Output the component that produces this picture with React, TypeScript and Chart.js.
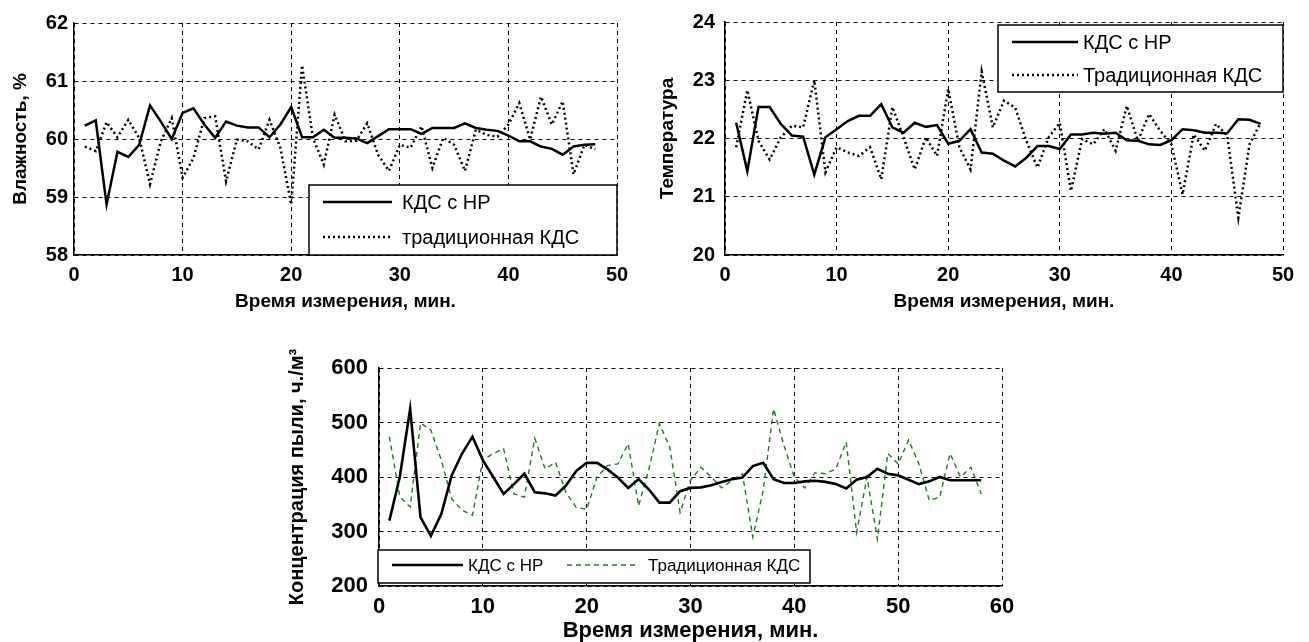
import React, { useEffect, useRef } from "react";
import { Chart, registerables } from "chart.js";

Chart.register(...registerables);

// ---------- data ----------
const minutesTop = [
  1, 2, 3, 4, 5, 6, 7, 8, 9, 10, 11, 12, 13, 14, 15, 16, 17, 18, 19, 20, 21, 22, 23, 24,
  25, 26, 27, 28, 29, 30, 31, 32, 33, 34, 35, 36, 37, 38, 39, 40, 41, 42, 43, 44, 45, 46, 47, 48,
];
const minutesDust = [
  1, 2, 3, 4, 5, 6, 7, 8, 9, 10, 11, 12, 13, 14, 15, 16, 17, 18, 19, 20, 21, 22, 23, 24,
  25, 26, 27, 28, 29, 30, 31, 32, 33, 34, 35, 36, 37, 38, 39, 40, 41, 42, 43, 44, 45, 46, 47, 48,
  49, 50, 51, 52, 53, 54, 55, 56, 57, 58,
];

const humidityNR = [
  60.23, 60.32, 58.87, 59.78, 59.69, 59.9, 60.58, 60.3, 60.0, 60.45, 60.53, 60.25, 60.02, 60.3,
  60.23, 60.2, 60.2, 60.03, 60.25, 60.55, 60.03, 60.03, 60.16, 60.02, 60.02, 60.01, 59.93, 60.05,
  60.17, 60.17, 60.17, 60.09, 60.19, 60.19, 60.19, 60.27, 60.19, 60.16, 60.14, 60.06, 59.96, 59.96,
  59.87, 59.83, 59.73, 59.87, 59.9, 59.91,
];
const humidityTrad = [
  59.87, 59.79, 60.29, 60.03, 60.33, 60.02, 59.22, 59.96, 60.36, 59.33, 59.67, 60.36, 60.39, 59.27,
  59.99, 59.96, 59.82, 60.33, 59.85, 58.87, 61.27, 60.02, 59.56, 60.42, 59.96, 59.97, 60.27, 59.73,
  59.45, 59.9, 59.85, 60.22, 59.5, 60.02, 59.9, 59.45, 60.16, 60.07, 60.04, 60.25, 60.62, 59.99,
  60.73, 60.25, 60.65, 59.39, 59.9, 59.82,
];

const tempNR = [
  22.27, 21.44, 22.54, 22.54, 22.25, 22.05, 22.03, 21.38, 22.02, 22.16, 22.3, 22.39, 22.39, 22.59,
  22.19, 22.1, 22.27, 22.2, 22.23, 21.91, 21.96, 22.16, 21.76, 21.74, 21.62, 21.52, 21.67, 21.87,
  21.87, 21.82, 22.07, 22.07, 22.1, 22.08, 22.1, 21.97, 21.96, 21.9, 21.89, 21.97, 22.16, 22.14,
  22.1, 22.1, 22.09, 22.33, 22.32, 22.25,
];
const tempTrad = [
  21.85, 22.83, 21.96, 21.64, 22.02, 22.22, 22.19, 23.0, 21.42, 21.85, 21.76, 21.7, 21.85, 21.3,
  22.54, 22.02, 21.47, 22.02, 21.7, 22.85, 21.85, 21.47, 23.15, 22.19, 22.65, 22.53, 21.96, 21.5,
  22.02, 22.27, 21.1, 21.99, 21.9, 22.16, 21.79, 22.56, 21.96, 22.42, 22.13, 21.9, 21.04, 22.07,
  21.79, 22.25, 22.05, 20.64, 21.9, 22.27,
];

const dustNR = [
  320, 400, 525, 326, 292, 332, 403, 443, 474, 431, 400, 369, 387, 406, 372, 370, 366, 384, 411, 426,
  426, 414, 399, 380, 396, 377, 353, 353, 374, 380, 381, 385, 391, 396, 399, 420, 426, 396, 389, 389,
  392, 393, 391, 387, 379, 395, 400, 415, 406, 403, 395, 387, 392, 400, 394, 394, 394, 394,
];
const dustTrad = [
  474, 364, 345, 499, 486, 431, 360, 339, 330, 431, 443, 452, 369, 363, 471, 415, 427, 372, 344, 341,
  400, 421, 424, 461, 347, 415, 498, 455, 335, 394, 418, 400, 380, 394, 406, 290, 375, 525, 458, 400,
  380, 408, 406, 415, 464, 298, 400, 286, 443, 424, 468, 424, 357, 363, 443, 400, 418, 369,
];

const labelNR = "КДС с НР";
const labelTradLower = "традиционная КДС";
const labelTradUpper = "Традиционная КДС";
const xTitle = "Время измерения, мин.";
const yTitleHumidity = "Влажность, %";
const yTitleTemp = "Температура";
const yTitleDust = "Концентрация пыли, ч./м³";

// ---------- helpers ----------
const FAMILY = '"Liberation Sans", Arial, sans-serif';

const toPoints = (xs: number[], ys: number[]) => xs.map((x, i) => ({ x, y: ys[i] }));

const boxLegend = {
  id: "boxLegend",
  afterDatasetsDraw(chart: any, _args: any, opts: any) {
    if (!opts || !opts.box) return;
    const ctx = chart.ctx as CanvasRenderingContext2D;
    const b = opts.box;
    ctx.save();
    ctx.setLineDash([]);
    ctx.fillStyle = "#fff";
    ctx.fillRect(b.x, b.y, b.w, b.h);
    ctx.strokeStyle = "#000";
    ctx.lineWidth = 1.5;
    ctx.strokeRect(b.x, b.y, b.w, b.h);
    const items = opts.items || [];
    for (let i = 0; i < items.length; i++) {
      const it = items[i];
      const ds = chart.data.datasets[i];
      ctx.beginPath();
      ctx.strokeStyle = ds.borderColor;
      ctx.lineWidth = ds.borderWidth;
      ctx.setLineDash(ds.borderDash || []);
      ctx.moveTo(it.x1, it.y);
      ctx.lineTo(it.x2, it.y);
      ctx.stroke();
      ctx.setLineDash([]);
      ctx.fillStyle = "#000";
      ctx.font = opts.font;
      ctx.textBaseline = "middle";
      ctx.textAlign = "left";
      ctx.fillText(ds.label, it.tx, it.y + 1);
    }
    ctx.restore();
  },
};

interface PanelCfg {
  xMax: number;
  yMin: number;
  yMax: number;
  yStep: number;
  yTitle: string;
  yTitleFont: any;
  yTitlePad: number;
  yWidth: number;
  yTickPad: number;
  xHeight: number;
  xTickPad: number;
  xTitleFont: any;
  xTitlePad: number;
  tickFont: any;
  padding: any;
  legend: any;
}

function buildOptions(c: PanelCfg) {
  return {
    responsive: false,
    animation: false as const,
    events: [],
    layout: { padding: c.padding },
    elements: { point: { radius: 0 }, line: { tension: 0 } },
    plugins: {
      legend: { display: false },
      tooltip: { enabled: false },
      boxLegend: c.legend,
    },
    scales: {
      x: {
        type: "linear" as const,
        min: 0,
        max: c.xMax,
        ticks: {
          stepSize: 10,
          color: "#000",
          font: c.tickFont,
          padding: c.xTickPad,
          maxRotation: 0,
          autoSkip: false,
        },
        grid: { color: "#000", lineWidth: 1, drawTicks: false },
        border: { display: true, color: "#000", width: 1.5, dash: [4, 4] },
        title: {
          display: true,
          text: xTitle,
          color: "#000",
          font: c.xTitleFont,
          padding: { top: 0, bottom: c.xTitlePad },
        },
        afterFit: (s: any) => {
          s.height = c.xHeight;
          s.paddingLeft = 0;
          s.paddingRight = 0;
        },
      },
      y: {
        type: "linear" as const,
        min: c.yMin,
        max: c.yMax,
        ticks: {
          stepSize: c.yStep,
          color: "#000",
          font: c.tickFont,
          padding: c.yTickPad,
        },
        grid: { color: "#000", lineWidth: 1, drawTicks: false },
        border: { display: true, color: "#000", width: 1.5, dash: [4, 4] },
        title: {
          display: true,
          text: c.yTitle,
          color: "#000",
          font: c.yTitleFont,
          padding: { top: c.yTitlePad, bottom: 0 },
        },
        afterFit: (s: any) => {
          s.width = c.yWidth;
          s.paddingTop = 0;
          s.paddingBottom = 0;
        },
      },
    },
  };
}

function Panel(props: {
  left: number;
  top: number;
  width: number;
  height: number;
  datasets: any[];
  cfg: PanelCfg;
}) {
  const ref = useRef<HTMLCanvasElement | null>(null);
  useEffect(() => {
    if (!ref.current) return;
    const chart = new Chart(ref.current, {
      type: "line",
      data: { datasets: props.datasets },
      options: buildOptions(props.cfg) as any,
      plugins: [boxLegend],
    });
    return () => chart.destroy();
  }, []);
  return (
    <canvas
      ref={ref}
      width={props.width}
      height={props.height}
      style={{
        position: "absolute",
        left: props.left,
        top: props.top,
        width: props.width,
        height: props.height,
      }}
    />
  );
}

const solidStyle = { borderColor: "#000", borderWidth: 2.5, borderDash: [] as number[], fill: false };
const dottedStyle = { borderColor: "#000", borderWidth: 2.5, borderDash: [2, 3], fill: false };
const greenStyle = { borderColor: "#1f7a1f", borderWidth: 1.4, borderDash: [5, 4], fill: false };

const topTickFont = { family: FAMILY, size: 20, weight: "bold" as const };
const topTitleFont = { family: FAMILY, size: 19, weight: "bold" as const };

export default function App() {
  const humidityDatasets = [
    { label: labelNR, data: toPoints(minutesTop, humidityNR), ...solidStyle },
    { label: labelTradLower, data: toPoints(minutesTop, humidityTrad), ...dottedStyle },
  ];
  const tempDatasets = [
    { label: labelNR, data: toPoints(minutesTop, tempNR), ...solidStyle },
    { label: labelTradUpper, data: toPoints(minutesTop, tempTrad), ...dottedStyle },
  ];
  const dustDatasets = [
    { label: labelNR, data: toPoints(minutesDust, dustNR), ...solidStyle, borderWidth: 2.6 },
    { label: labelTradUpper, data: toPoints(minutesDust, dustTrad), ...greenStyle },
  ];

  const humidityCfg: PanelCfg = {
    xMax: 50,
    yMin: 58,
    yMax: 62,
    yStep: 1,
    yTitle: yTitleHumidity,
    yTitleFont: topTitleFont,
    yTitlePad: 9,
    yWidth: 74,
    yTickPad: 6,
    xHeight: 65,
    xTickPad: 8,
    xTitleFont: topTitleFont,
    xTitlePad: 7,
    tickFont: topTickFont,
    padding: { left: 0, top: 23, right: 33, bottom: 0 },
    legend: {
      box: { x: 309, y: 185, w: 308, h: 70 },
      font: `20px ${FAMILY}`,
      items: [
        { x1: 323, x2: 392, tx: 402, y: 202 },
        { x1: 323, x2: 392, tx: 402, y: 237 },
      ],
    },
  };

  const tempCfg: PanelCfg = {
    xMax: 50,
    yMin: 20,
    yMax: 24,
    yStep: 1,
    yTitle: yTitleTemp,
    yTitleFont: topTitleFont,
    yTitlePad: 6,
    yWidth: 75,
    yTickPad: 10,
    xHeight: 65,
    xTickPad: 8,
    xTitleFont: topTitleFont,
    xTitlePad: 7,
    tickFont: topTickFont,
    padding: { left: 0, top: 22, right: 26, bottom: 0 },
    legend: {
      box: { x: 348, y: 25, w: 285, h: 67 },
      font: `20px ${FAMILY}`,
      items: [
        { x1: 362, x2: 428, tx: 433, y: 42 },
        { x1: 362, x2: 428, tx: 433, y: 75 },
      ],
    },
  };

  const dustCfg: PanelCfg = {
    xMax: 60,
    yMin: 200,
    yMax: 600,
    yStep: 100,
    yTitle: yTitleDust,
    yTitleFont: { family: FAMILY, size: 20, weight: "bold" as const },
    yTitlePad: 45,
    yWidth: 139,
    yTickPad: 11,
    xHeight: 56,
    xTickPad: 8,
    xTitleFont: { family: FAMILY, size: 22, weight: "bold" as const, lineHeight: 1 },
    xTitlePad: 0,
    tickFont: { family: FAMILY, size: 22, weight: "bold" as const },
    padding: { left: 0, top: 38, right: 38, bottom: 0 },
    legend: {
      box: { x: 138, y: 220, w: 432, h: 33 },
      font: `17px ${FAMILY}`,
      items: [
        { x1: 152, x2: 223, tx: 228, y: 235 },
        { x1: 327, x2: 398, tx: 408, y: 235 },
      ],
    },
  };

  return (
    <div style={{ position: "absolute", left: 0, top: 0, width: 1309, height: 642, background: "#fff" }}>
      <Panel left={0} top={0} width={650} height={320} datasets={humidityDatasets} cfg={humidityCfg} />
      <Panel left={650} top={0} width={659} height={320} datasets={tempDatasets} cfg={tempCfg} />
      <Panel left={240} top={330} width={800} height={312} datasets={dustDatasets} cfg={dustCfg} />
    </div>
  );
}
